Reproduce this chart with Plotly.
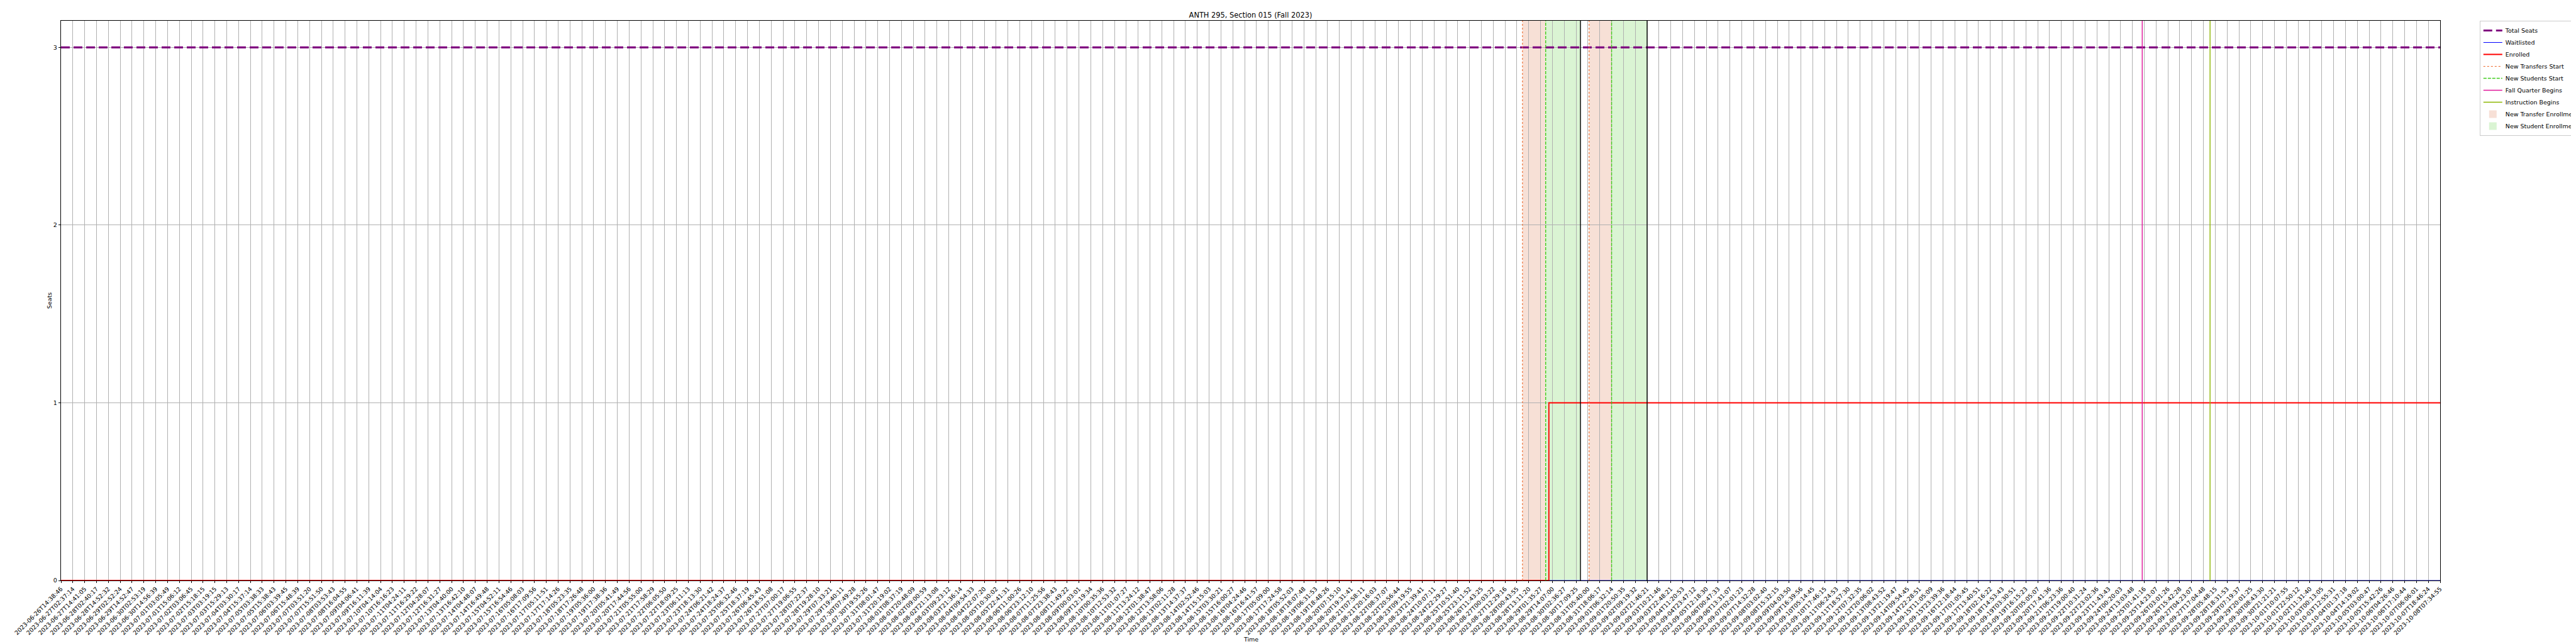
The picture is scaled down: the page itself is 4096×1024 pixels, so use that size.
import plotly.graph_objects as go

# ---------------- data ----------------
tick_labels = [
    "2023-06-26T14:38:46", "2023-06-27T02:37:14", "2023-06-27T14:41:05", "2023-06-28T02:40:17",
    "2023-06-28T14:52:32", "2023-06-29T02:52:24", "2023-06-29T14:52:47", "2023-06-30T02:53:19",
    "2023-06-30T14:56:39", "2023-07-01T03:05:49", "2023-07-01T15:06:12", "2023-07-02T03:06:45",
    "2023-07-02T15:18:15", "2023-07-03T03:19:15", "2023-07-03T15:29:13", "2023-07-04T03:30:17",
    "2023-07-04T15:37:14", "2023-07-05T03:38:33", "2023-07-05T15:38:43", "2023-07-06T03:39:45",
    "2023-07-06T15:48:39", "2023-07-07T03:51:20", "2023-07-07T15:51:50", "2023-07-08T03:53:43",
    "2023-07-08T16:04:55", "2023-07-09T04:06:41", "2023-07-09T16:11:39", "2023-07-10T04:14:04",
    "2023-07-10T16:16:23", "2023-07-11T04:24:11", "2023-07-11T16:29:22", "2023-07-12T04:28:07",
    "2023-07-12T16:31:27", "2023-07-13T04:40:00", "2023-07-13T16:42:10", "2023-07-14T04:48:07",
    "2023-07-14T16:49:48", "2023-07-15T04:52:11", "2023-07-15T16:54:46", "2023-07-16T05:08:03",
    "2023-07-16T17:09:56", "2023-07-17T05:11:51", "2023-07-17T17:14:26", "2023-07-18T05:23:35",
    "2023-07-18T17:26:48", "2023-07-19T05:36:00", "2023-07-19T17:38:36", "2023-07-20T05:41:49",
    "2023-07-20T17:44:56", "2023-07-21T05:55:00", "2023-07-21T17:58:29", "2023-07-22T06:05:50",
    "2023-07-22T18:09:25", "2023-07-23T06:11:13", "2023-07-23T18:13:30", "2023-07-24T06:21:42",
    "2023-07-24T18:24:37", "2023-07-25T06:32:46", "2023-07-25T18:37:19", "2023-07-26T06:45:43",
    "2023-07-26T18:51:08", "2023-07-27T07:00:17", "2023-07-27T19:06:55", "2023-07-28T07:22:37",
    "2023-07-28T19:28:10", "2023-07-29T07:33:21", "2023-07-29T19:40:11", "2023-07-30T07:49:28",
    "2023-07-30T19:55:26", "2023-07-31T08:01:47", "2023-07-31T20:19:02", "2023-08-01T08:37:19",
    "2023-08-01T20:48:09", "2023-08-02T09:00:59", "2023-08-02T21:13:08", "2023-08-03T09:23:12",
    "2023-08-03T21:36:14", "2023-08-04T09:54:33", "2023-08-04T22:07:20", "2023-08-05T10:30:02",
    "2023-08-05T22:41:31", "2023-08-06T11:00:26", "2023-08-06T23:12:10", "2023-08-07T11:25:56",
    "2023-08-07T23:38:43", "2023-08-08T11:49:22", "2023-08-09T00:03:01", "2023-08-09T12:19:34",
    "2023-08-10T00:35:36", "2023-08-10T12:53:32", "2023-08-11T01:07:27", "2023-08-11T13:24:12",
    "2023-08-12T01:38:47", "2023-08-12T13:58:06", "2023-08-13T02:11:28", "2023-08-13T14:37:37",
    "2023-08-14T02:52:46", "2023-08-14T15:15:03", "2023-08-15T03:30:21", "2023-08-15T16:00:27",
    "2023-08-16T04:24:46", "2023-08-16T16:41:57", "2023-08-17T05:09:00", "2023-08-17T17:24:58",
    "2023-08-18T05:52:03", "2023-08-18T18:07:48", "2023-08-19T06:31:53", "2023-08-19T18:48:26",
    "2023-08-20T07:15:10", "2023-08-20T19:31:41", "2023-08-21T07:58:11", "2023-08-21T20:16:03",
    "2023-08-22T08:37:07", "2023-08-22T20:56:44", "2023-08-23T09:19:55", "2023-08-23T21:39:41",
    "2023-08-24T10:07:11", "2023-08-24T22:29:27", "2023-08-25T10:51:40", "2023-08-25T23:11:52",
    "2023-08-26T11:43:25", "2023-08-27T00:03:22", "2023-08-27T12:29:16", "2023-08-28T00:43:55",
    "2023-08-28T13:11:20", "2023-08-29T01:35:27", "2023-08-29T14:07:00", "2023-08-30T02:36:27",
    "2023-08-30T17:09:25", "2023-08-31T05:40:00", "2023-08-31T18:06:17", "2023-09-01T06:32:14",
    "2023-09-01T20:50:35", "2023-09-02T09:19:32", "2023-09-02T21:46:21", "2023-09-03T10:21:46",
    "2023-09-03T22:48:21", "2023-09-04T11:20:53", "2023-09-04T23:47:12", "2023-09-05T12:18:30",
    "2023-09-06T00:47:33", "2023-09-06T13:31:07", "2023-09-07T02:01:23", "2023-09-07T14:32:28",
    "2023-09-08T03:02:40", "2023-09-08T15:32:15", "2023-09-09T04:03:50", "2023-09-09T16:39:56",
    "2023-09-10T05:14:45", "2023-09-10T17:46:15", "2023-09-11T06:24:53", "2023-09-11T18:57:30",
    "2023-09-12T07:32:35", "2023-09-12T20:06:02", "2023-09-13T08:43:52", "2023-09-13T21:19:47",
    "2023-09-14T09:54:45", "2023-09-14T22:28:51", "2023-09-15T11:05:09", "2023-09-15T23:39:36",
    "2023-09-16T12:18:44", "2023-09-17T01:05:45", "2023-09-17T13:40:51", "2023-09-18T02:16:22",
    "2023-09-18T14:53:43", "2023-09-19T03:30:51", "2023-09-19T16:15:23", "2023-09-20T05:05:07",
    "2023-09-20T17:41:36", "2023-09-21T06:23:36", "2023-09-21T19:00:40", "2023-09-22T10:31:24",
    "2023-09-22T23:02:36", "2023-09-23T11:43:43", "2023-09-24T00:20:03", "2023-09-24T13:03:48",
    "2023-09-25T01:41:16", "2023-09-25T14:23:07", "2023-09-26T03:01:26", "2023-09-26T15:42:28",
    "2023-09-27T04:23:07", "2023-09-27T17:04:48", "2023-09-28T05:48:15", "2023-09-28T18:31:53",
    "2023-09-29T07:19:37", "2023-09-29T20:01:25", "2023-09-30T08:43:30", "2023-09-30T21:21:21",
    "2023-10-01T10:07:55", "2023-10-01T22:50:12", "2023-10-02T11:31:40", "2023-10-03T00:13:05",
    "2023-10-03T12:55:31", "2023-10-04T01:37:18", "2023-10-04T14:19:02", "2023-10-05T03:00:47",
    "2023-10-05T15:42:26", "2023-10-06T04:26:46", "2023-10-06T17:10:44", "2023-10-07T06:06:01",
    "2023-10-07T18:46:24", "2023-10-08T07:34:55",
]

total_seats = 3
waitlisted = 0
# Enrolled count steps (position on the sample axis, value)
enrolled_pos = [0, 125.7]
enrolled_val = [0, 1]

# event positions on the sample axis
transfer_starts = [123.47, 129.1]
student_starts = [125.43, 131.0]
window_ends = [128.37, 134.0]
fall_quarter_begins = [175.83]
instruction_begins = [181.56]

y_max = 3.15
title_text = "ANTH 295, Section 015 (Fall 2023)"

# ---------------- styling ----------------
S = 0.682
W, H = 4096, 1024
FONT = "DejaVu Sans"
FS = 13.9 * S
positions = list(range(len(tick_labels)))
last = positions[-1]

C_PURPLE = "#800080"
C_BLUE = "#0000ff"
C_RED = "#ff0000"
C_TRANSFER = "#ee6a2c"
C_STUDENT = "#3fcc1c"
C_FALL = "#e0169a"
C_INSTR = "#8db600"
C_TRANSFER_FILL = "#f7e0d6"
C_STUDENT_FILL = "#daf4d3"

fig = go.Figure()

fig.add_trace(go.Scatter(
    x=positions, y=[total_seats] * len(positions), mode="lines", name="Total Seats",
    line=dict(color=C_PURPLE, width=3.2, dash="14px,6px"), legendrank=1,
))
fig.add_trace(go.Scatter(
    x=positions, y=[waitlisted] * len(positions), mode="lines", name="Waitlisted",
    line=dict(color=C_BLUE, width=1.0), legendrank=2,
))
fig.add_trace(go.Scatter(
    x=enrolled_pos + [last], y=enrolled_val + [enrolled_val[-1]], mode="lines", name="Enrolled",
    line=dict(color=C_RED, width=1.9, shape="hv"), legendrank=3,
))

shapes = []


def vline(p, color, width, dash, name=None, show=False, rank=None):
    d = dict(type="line", x0=p, x1=p, xref="x", yref="paper", y0=0, y1=1,
             line=dict(color=color, width=width, dash=dash), layer="above")
    if name:
        d.update(name=name, legendgroup=name, showlegend=show)
        if rank is not None:
            d["legendrank"] = rank
    return d


def vrect(a, b, color, name, show, rank):
    return dict(type="rect", x0=a, x1=b, xref="x", yref="paper", y0=0, y1=1,
                fillcolor=color, line=dict(width=0), layer="below",
                name=name, legendgroup=name, showlegend=show, legendrank=rank)


for i, (a, b) in enumerate(zip(transfer_starts, student_starts)):
    shapes.append(vrect(a, b, C_TRANSFER_FILL, "New Transfer Enrollment", i == 0, 8))
for i, (a, b) in enumerate(zip(student_starts, window_ends)):
    shapes.append(vrect(a, b, C_STUDENT_FILL, "New Student Enrollment", i == 0, 9))
for i, p in enumerate(transfer_starts):
    shapes.append(vline(p, C_TRANSFER, 1.1, "dot", "New Transfers Start", i == 0, 4))
for i, p in enumerate(student_starts):
    shapes.append(vline(p, C_STUDENT, 1.4, "5px,2px", "New Students Start", i == 0, 5))
for p in window_ends:
    shapes.append(vline(p, "#000000", 1.4, "solid"))
for i, p in enumerate(fall_quarter_begins):
    shapes.append(vline(p, C_FALL, 1.4, "solid", "Fall Quarter Begins", i == 0, 6))
for i, p in enumerate(instruction_begins):
    shapes.append(vline(p, C_INSTR, 1.4, "solid", "Instruction Begins", i == 0, 7))

ml, mr, mt, mb = 89, 224, 25, 109

fig.update_layout(
    width=W, height=H,
    margin=dict(l=ml, r=mr, t=mt, b=mb, autoexpand=False),
    paper_bgcolor="white", plot_bgcolor="white",
    font=dict(family=FONT, size=FS, color="black"),
    shapes=shapes,
    title=dict(text=title_text, x=0.5, xref="paper", xanchor="center",
               y=1 - 15.7 / H, yref="container", yanchor="middle",
               font=dict(family=FONT, size=16.7 * S, color="black")),
    showlegend=True,
    legend=dict(x=1.0166, y=1, xanchor="left", yanchor="top", xref="paper", yref="paper",
                bgcolor="white", bordercolor="#cccccc", borderwidth=1,
                font=dict(family=FONT, size=FS, color="black"),
                itemwidth=30, tracegroupgap=0),
    xaxis=dict(
        range=[0, last], tickmode="array", tickvals=positions, ticktext=tick_labels,
        tickangle=-45, tickfont=dict(family=FONT, size=FS, color="black"),
        showgrid=True, gridcolor="#b0b0b0", gridwidth=0.8,
        ticks="outside", ticklen=3.3, tickwidth=0.8, tickcolor="black",
        showline=True, linecolor="black", linewidth=1, mirror=True,
        zeroline=False, automargin=False,
    ),
    yaxis=dict(
        range=[0, y_max], tickmode="array", tickvals=[0, 1, 2, 3],
        tickfont=dict(family=FONT, size=FS, color="black"),
        showgrid=True, gridcolor="#b0b0b0", gridwidth=0.8,
        ticks="outside", ticklen=3.3, tickwidth=0.8, tickcolor="black",
        showline=True, linecolor="black", linewidth=1, mirror=True,
        zeroline=False, automargin=False,
    ),
    annotations=[
        dict(text="Time", x=0.5, xref="paper", y=0, yref="paper", xanchor="center",
             yanchor="middle", yshift=-(1008 - (H - mb)), showarrow=False,
             font=dict(family=FONT, size=FS, color="black")),
        dict(text="Seats", x=0, xref="paper", y=0.5, yref="paper", xanchor="center",
             yanchor="middle", xshift=-(ml - 70), textangle=-90, showarrow=False,
             font=dict(family=FONT, size=FS, color="black")),
    ],
)

fig.write_html("out.html")
